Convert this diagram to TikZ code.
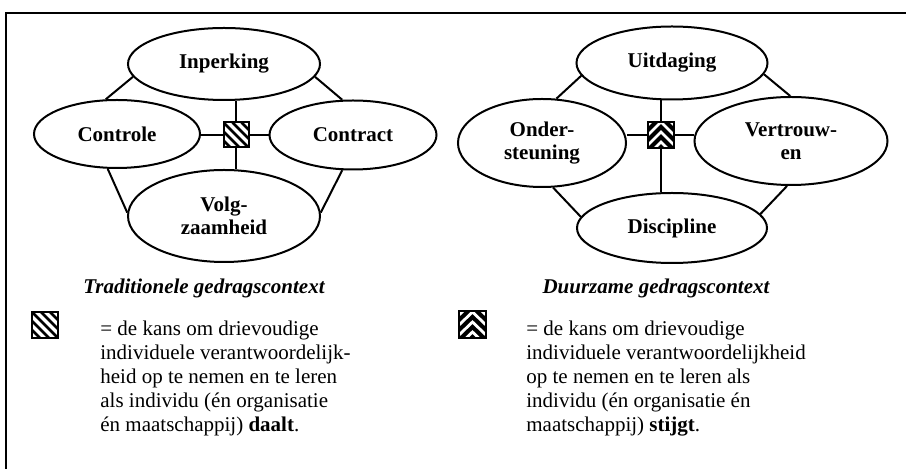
\documentclass[tikz,border=0pt]{standalone}
\usepackage{fontspec}
\setmainfont{Liberation Serif}
\usetikzlibrary{shapes.geometric,positioning}

\tikzset{
  ovaal/.style={draw,ellipse,line width=1pt,inner sep=0pt,align=center,
    font=\fontsize{10.5}{11.5}\selectfont\bfseries},
  lijn/.style={line width=1pt},
  % symbool: kans daalt
  kansdaalt/.style={draw,line width=1pt,inner sep=0pt,minimum size=#1,
    path picture={
      \foreach \s in {-9,-4.5,0,4.5,9}
        \draw[line width=1.4pt] ([xshift=\s pt]path picture bounding box.north west)
          -- ([xshift=\s pt]path picture bounding box.south east);}},
  % symbool: kans stijgt
  kansstijgt/.style={draw,line width=1pt,inner sep=0pt,minimum size=#1,fill=black,
    path picture={
      \foreach \s in {-10,-5,0,5}
        \draw[white,line width=1.4pt] ([yshift=\s pt]path picture bounding box.west)
          -- ([yshift=\s pt+6.5pt]path picture bounding box.center)
          -- ([yshift=\s pt]path picture bounding box.east);}},
  tekst/.style={inner sep=0pt,align=left,font=\fontsize{10.5}{12}\selectfont},
  titel/.style={inner sep=0pt,font=\fontsize{10.5}{12}\selectfont\bfseries\itshape}
}

\begin{document}
\begin{tikzpicture}[x=0.5pt,y=-0.5pt]
\useasboundingbox (0,0) rectangle (906,469);
% kader
\draw[line width=1pt] (906,13) -- (6,13) -- (6,469);

% traditionele gedragscontext
\node[ovaal,minimum width=96pt,minimum height=36pt] (inp) at (224,64) {Inperking};
\node[ovaal,minimum width=83pt,minimum height=34pt] (ctrl) at (117,134) {Controle};
\node[ovaal,minimum width=83.5pt,minimum height=34.5pt] (ctr) at (353,135) {Contract};
\node[ovaal,minimum width=96pt,minimum height=46pt] (volg) at (224,216) {Volg-\\zaamheid};
\node[kansdaalt=12.5pt] (kd) at (236,135) {};
\draw[lijn] (kd) -- (kd |- inp.south);
\draw[lijn] (kd) -- (kd |- volg.north);
\draw[lijn] (kd) -- (kd -| ctrl.east);
\draw[lijn] (kd) -- (kd -| ctr.west);
\draw[lijn] (inp.188) -- (ctrl.108);
\draw[lijn] (inp.352) -- (ctr.107);
\draw[lijn] (ctrl.255) -- (volg.178);
\draw[lijn] (ctr.253) -- (volg.2);
\node[titel] (trad) at (204,288) {Traditionele gedragscontext};

% duurzame gedragscontext
\node[ovaal,minimum width=95.5pt,minimum height=36.5pt] (uit) at (672,63) {Uitdaging};
\node[ovaal,minimum width=84pt,minimum height=44pt] (onder) at (542,143) {Onder-\\steuning};
\node[ovaal,minimum width=96.5pt,minimum height=44pt] (vert) at (791,141) {Vertrouw-\\en};
\node[ovaal,minimum width=95pt,minimum height=35pt] (disc) at (672,228) {Discipline};
\node[kansstijgt=13pt] (ks) at (661,135) {};
\draw[lijn] (ks) -- (ks |- uit.south);
\draw[lijn] (ks) -- (ks |- disc.north);
\draw[lijn] (ks) -- (ks -| onder.east);
\draw[lijn] (ks) -- (ks -| vert.west);
\draw[lijn] (uit.188) -- (onder.72);
\draw[lijn] (uit.353) -- (vert.91);
\draw[lijn] (onder.284) -- (disc.173);
\draw[lijn] (vert.265) -- (disc.9);
\node[titel] (duur) at (656,288) {Duurzame gedragscontext};

% legenda
\node[kansdaalt=13pt] (sd) at (45,325) {};
\node[tekst,anchor=north west] (td) at (100,320.5) {= de kans om drievoudige\\
  individuele verantwoordelijk-\\heid op te nemen en te leren\\
  als individu (én organisatie\\én maatschappij) \textbf{daalt}.};
\node[kansstijgt=13.5pt] (ss) at (472.5,325) {};
\node[tekst,anchor=north west] (ts) at (526,320.5) {= de kans om drievoudige\\
  individuele verantwoordelijkheid\\op te nemen en te leren als\\
  individu (én organisatie én\\maatschappij) \textbf{stijgt}.};
\end{tikzpicture}
\end{document}
